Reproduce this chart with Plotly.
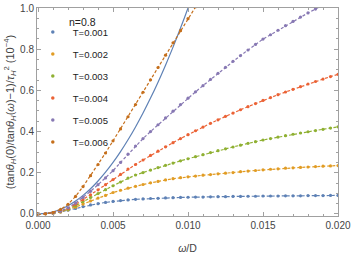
import plotly.graph_objects as go

omega = [0.0, 0.0005, 0.001, 0.0015, 0.002, 0.0025, 0.003, 0.0035, 0.004, 0.0045,
         0.005, 0.0055, 0.006, 0.0065, 0.007, 0.0075, 0.008, 0.0085, 0.009, 0.0095,
         0.010, 0.0105, 0.011, 0.0115, 0.012, 0.0125, 0.013, 0.0135, 0.014, 0.0145,
         0.015, 0.0155, 0.016, 0.0165, 0.017, 0.0175, 0.018, 0.0185, 0.019, 0.0195, 0.020]

t001 = [0, 0.001, 0.004, 0.010, 0.018, 0.027, 0.036, 0.044, 0.050, 0.056,
        0.061, 0.065, 0.068, 0.071, 0.073, 0.075, 0.076, 0.078, 0.079, 0.080,
        0.081, 0.082, 0.082, 0.083, 0.084, 0.084, 0.085, 0.085, 0.086, 0.086,
        0.087, 0.087, 0.087, 0.088, 0.088, 0.088, 0.089, 0.089, 0.089, 0.090, 0.090]

t002 = [0, 0.001, 0.004, 0.010, 0.020, 0.033, 0.048, 0.063, 0.077, 0.090,
        0.104, 0.115, 0.125, 0.134, 0.143, 0.151, 0.158, 0.165, 0.171, 0.176,
        0.180, 0.184, 0.188, 0.191, 0.195, 0.198, 0.201, 0.205, 0.208, 0.211,
        0.214, 0.217, 0.219, 0.222, 0.224, 0.226, 0.228, 0.230, 0.232, 0.233, 0.235]

t003 = [0, 0.001, 0.004, 0.011, 0.023, 0.040, 0.060, 0.080, 0.099, 0.118,
        0.137, 0.155, 0.174, 0.189, 0.201, 0.213, 0.225, 0.236, 0.247, 0.258,
        0.268, 0.278, 0.288, 0.298, 0.307, 0.316, 0.325, 0.334, 0.343, 0.351,
        0.359, 0.366, 0.373, 0.380, 0.387, 0.393, 0.399, 0.405, 0.411, 0.417, 0.423]

t004 = [0, 0.001, 0.005, 0.013, 0.027, 0.047, 0.069, 0.093, 0.117, 0.142,
        0.167, 0.192, 0.218, 0.240, 0.262, 0.284, 0.305, 0.326, 0.346, 0.366,
        0.385, 0.404, 0.422, 0.440, 0.457, 0.474, 0.490, 0.506, 0.521, 0.536,
        0.551, 0.565, 0.579, 0.592, 0.605, 0.618, 0.631, 0.643, 0.655, 0.667, 0.678]

t005 = [0, 0.001, 0.005, 0.014, 0.030, 0.053, 0.080, 0.110, 0.142, 0.175,
        0.210, 0.250, 0.290, 0.330, 0.366, 0.400, 0.433, 0.466, 0.499, 0.531,
        0.562, 0.593, 0.623, 0.653, 0.683, 0.712, 0.741, 0.769, 0.796, 0.823,
        0.849, 0.870, 0.892, 0.914, 0.935, 0.956, 0.976, 0.995, 1.014]

t006 = [0, 0.001, 0.007, 0.022, 0.047, 0.085, 0.133, 0.186, 0.240, 0.296,
        0.355, 0.413, 0.472, 0.531, 0.591, 0.651, 0.711, 0.771, 0.831, 0.890,
        0.948, 1.006, 1.064]

solid = [0, 0.0025, 0.010, 0.0225, 0.040, 0.0625, 0.090, 0.1225, 0.160, 0.2025,
         0.250, 0.3025, 0.360, 0.4225, 0.490, 0.5625, 0.640, 0.7225, 0.810, 0.9025,
         1.000, 1.1025]

temps = ["T=0.001", "T=0.002", "T=0.003", "T=0.004", "T=0.005", "T=0.006"]
series = [t001, t002, t003, t004, t005, t006]
colors = ["#5E81B5", "#E19C24", "#8FB032", "#EB6235", "#8778B3", "#C56E1A"]

fig = go.Figure()

fig.add_trace(go.Scatter(x=omega[:len(solid)], y=solid, mode="lines",
                         line=dict(color="#5E81B5", width=1.2, shape="spline"),
                         showlegend=False))

for name, ys, c in zip(temps, series, colors):
    fig.add_trace(go.Scatter(x=omega[:len(ys)], y=ys, mode="lines+markers",
                             line=dict(color=c, width=1.2, dash="3px,2px"),
                             marker=dict(color=c, size=3.2),
                             showlegend=False))

for i, (name, c) in enumerate(zip(temps, colors)):
    fig.add_trace(go.Scatter(x=[None], y=[None], mode="markers", name=name,
                             marker=dict(color=c, size=3.5),
                             legendgroup=f"g{i}", showlegend=True))

axis_common = dict(showline=True, linecolor="#A0A0A0", linewidth=1, mirror="allticks",
                   ticks="inside", ticklen=4, tickcolor="#A0A0A0", showgrid=False,
                   zeroline=False, automargin=False,
                   tickfont=dict(family="Liberation Sans", size=10, color="#444444"))

fig.update_xaxes(range=[-0.00007, 0.02], tickvals=[0, 0.005, 0.010, 0.015, 0.020],
                 ticktext=["0.000", "0.005", "0.010", "0.015", "0.020"],
                 minor=dict(dtick=0.001, tick0=0, ticks="inside", ticklen=2, tickcolor="#A0A0A0"),
                 title=dict(text="<i>ω</i>/D", font=dict(family="Liberation Sans", size=10.5, color="#444444"),
                            standoff=14),
                 **axis_common)
fig.update_yaxes(range=[-0.01, 1.0], tickvals=[0, 0.2, 0.4, 0.6, 0.8, 1.0],
                 ticktext=["0.0", "0.2", "0.4", "0.6", "0.8", "1.0"],
                 minor=dict(dtick=0.05, tick0=0, ticks="inside", ticklen=2, tickcolor="#A0A0A0"),
                 title=dict(text="(tan<i>θ</i><sub><i>H</i></sub>(0)/tan<i>θ</i><sub><i>H</i></sub>(<i>ω</i>)−1)/<i>τ</i><sub><i>H</i></sub><sup>2</sup> (10<sup>−4</sup>)",
                            font=dict(family="Liberation Sans", size=11, color="#444444"), standoff=3),
                 **axis_common)

fig.update_layout(
    width=353, height=255,
    margin=dict(l=37, r=15, t=8, b=39, autoexpand=False),
    plot_bgcolor="white", paper_bgcolor="white",
    font=dict(family="Liberation Sans", size=10, color="#333333"),
    legend=dict(x=-0.014, y=0.954, xanchor="left", yanchor="top", bgcolor="rgba(0,0,0,0)",
                font=dict(size=9.5, color="#222222"), itemwidth=30, tracegroupgap=3),
    annotations=[dict(text="n=0.8", xref="paper", yref="paper", x=0.1, y=0.933,
                      xanchor="left", yanchor="middle", showarrow=False,
                      font=dict(size=10.5, color="#222222"))],
)

fig.write_html("out.html", config={"displayModeBar": False},
               post_script="document.body.style.margin='0';")
